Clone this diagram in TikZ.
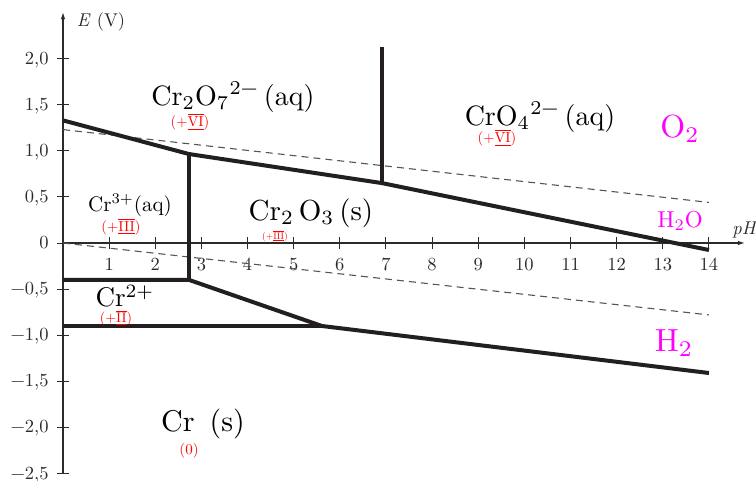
\documentclass[tikz,border=0pt]{standalone}
\usetikzlibrary{arrows.meta}
\definecolor{ink}{HTML}{231F20}
\definecolor{axiscol}{HTML}{2B2B2B}
\definecolor{dashcol}{HTML}{555555}
\definecolor{oxred}{HTML}{FF0000}
\definecolor{gasmag}{HTML}{FF00FF}
\newcommand\rn[1]{$\overline{\underline{\mbox{#1}}}$}
\begin{document}
\begin{tikzpicture}[x=46.14pt,y=92.2pt,
 sz/.style={font=\fontsize{10}{12}\selectfont,transform shape,scale=#1/10},
 phase/.style={draw=ink,line width=4pt},
 water/.style={draw=dashcol,line width=1.1pt,dash pattern=on 7pt off 5pt},
 axisline/.style={draw=axiscol,line width=1.2pt},
 tickmark/.style={draw=axiscol,line width=1pt},
 axlab/.style={text=axiscol,inner sep=0pt},
 species/.style={text=black,inner sep=0pt},
 ox/.style={text=oxred,inner sep=0pt},
 gas/.style={text=gasmag,inner sep=0pt}]

\path[use as bounding box] (-63pt,-237pt) rectangle (693pt,243pt);

% axes
\coordinate (O) at (0,0);
\coordinate (ytop) at (0,2.505);
\coordinate (ybot) at (0,-2.5);
\coordinate (xend) at (14.78,0);
\draw[axisline,-{Latex[length=7pt,width=4.5pt]}] (ybot) -- (ytop);
\draw[axisline,-{Latex[length=7pt,width=4.5pt]}] (O) -- (xend);
\node[axlab,sz=18.5,anchor=center] (Elab) at (38pt,221pt) {\textit{E} (V)};
\node[axlab,sz=18.5,anchor=west] (pHlab) at (669pt,13pt) {\textit{pH}};

\foreach \x in {1,...,14} {
  \draw[tickmark] (\x,0) ++(0,-6pt) -- ++(0,12pt);
  \node[axlab,sz=18.5,anchor=base] (tx\x) at ([yshift=-27pt]\x,0) {\x};
}
\foreach \e/\t [count=\i] in {2/{2,0},1.5/{1,5},1/{1,0},0.5/{0,5},0/{0},-0.5/{−0,5},-1/{−1,0},-1.5/{−1,5},-2/{−2,0},-2.5/{−2,5}} {
  \draw[tickmark] (0,\e) ++(-6pt,0) -- ++(12pt,0);
  \node[axlab,sz=18.5,anchor=base east] (ty\i) at ([xshift=-14pt,yshift=-5.5pt]0,\e) {\t};
}

% water stability lines
\coordinate (wa1) at (0,1.23);
\coordinate (wa2) at (14,0.44);
\coordinate (wb1) at (0,0);
\coordinate (wb2) at (14,-0.78);
\draw[water] (wa1) -- (wa2);
\draw[water] (wb1) -- (wb2);

% phase boundaries
\coordinate (p1) at (0,1.33);
\coordinate (p2) at (2.73,0.965);
\coordinate (p3) at (6.91,0.65);
\coordinate (p4) at (14,-0.076);
\coordinate (p5) at (6.91,2.13);
\coordinate (p6) at (2.73,-0.40);
\coordinate (p7) at (0,-0.40);
\coordinate (p8) at (5.61,-0.90);
\coordinate (p9) at (14,-1.41);
\coordinate (p10) at (0,-0.90);
\draw[phase] (p1) -- (p2) -- (p3) -- (p4);
\draw[phase] (p3) -- (p5);
\draw[phase] (p2) -- (p6);
\draw[phase] (p7) -- (p6) -- (p8) -- (p9);
\draw[phase] (p10) -- (p8);

% species
\node[species,sz=28] (cr2o7) at (170pt,146pt) {Cr\textsubscript{2}O\textsubscript{7}\textsuperscript{2−}\,(aq)};
\node[ox,sz=14.5] (ox1) at (127pt,121pt) {(+\rn{VI})};
\node[species,sz=28] (cro4) at (477pt,126pt) {CrO\textsubscript{4}\textsuperscript{2−}\,(aq)};
\node[ox,sz=14.5] (ox2) at (434pt,105pt) {(+\rn{VI})};
\node[species,sz=21] (cr3) at (67pt,38pt) {Cr\textsuperscript{3+}(aq)};
\node[ox,sz=14.5] (ox3) at (58pt,16pt) {(+\rn{III})};
\node[species,sz=29] (cr2o3) at (248pt,30pt) {Cr\textsubscript{2}\,O\textsubscript{3}\,(s)};
\node[ox,sz=9.5] (ox4) at (212pt,7pt) {(+\rn{III})};
\node[species,sz=27] (cr2) at (62pt,-53pt) {Cr\textsuperscript{2+}};
\node[ox,sz=14] (ox5) at (53pt,-75pt) {(+\rn{II})};
\node[species,sz=30] (cr0) at (140pt,-181pt) {Cr\enspace(s)};
\node[ox,sz=15] (ox6) at (126pt,-208pt) {(0)};

% water species
\node[gas,sz=32] (o2) at (617pt,114pt) {O\textsubscript{2}};
\node[gas,sz=23] (h2o) at (617pt,22pt) {H\textsubscript{2}O};
\node[gas,sz=32] (h2) at (611pt,-100pt) {H\textsubscript{2}};
\end{tikzpicture}
\end{document}
